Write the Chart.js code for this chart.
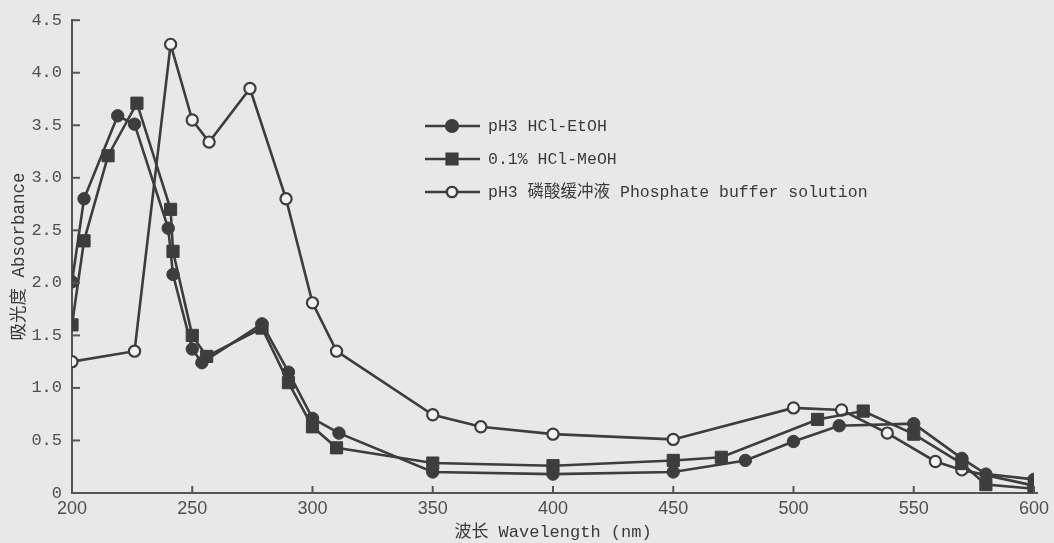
<!DOCTYPE html>
<html>
<head>
<meta charset="utf-8">
<script src="https://cdn.jsdelivr.net/npm/chart.js@4/dist/chart.umd.min.js"></script>
<style>
  html, body { margin: 0; padding: 0; background: #e8e8e8; }
  #wrap { width: 1054px; height: 543px; position: relative; }
</style>
</head>
<body>
<div id="wrap"><canvas id="c" width="1054" height="543"></canvas></div>
<script>
// ---- data ----
const etohWavelength = [200, 205, 219, 226, 240, 242, 250, 254, 279, 290, 300, 311, 350, 400, 450, 480, 500, 519, 550, 570, 580, 600];
const etohAbsorbance = [2.01, 2.80, 3.59, 3.51, 2.52, 2.08, 1.37, 1.24, 1.61, 1.15, 0.71, 0.57, 0.20, 0.18, 0.20, 0.31, 0.49, 0.64, 0.66, 0.33, 0.18, 0.13];

const meohWavelength = [200, 205, 215, 227, 241, 242, 250, 256, 279, 290, 300, 310, 350, 400, 450, 470, 510, 529, 550, 570, 580, 600];
const meohAbsorbance = [1.60, 2.40, 3.21, 3.71, 2.70, 2.30, 1.50, 1.30, 1.57, 1.05, 0.63, 0.43, 0.285, 0.26, 0.31, 0.34, 0.70, 0.78, 0.56, 0.28, 0.08, 0.04];

const phosWavelength = [200, 226, 241, 250, 257, 274, 289, 300, 310, 350, 370, 400, 450, 500, 520, 539, 559, 570, 600];
const phosAbsorbance = [1.25, 1.35, 4.27, 3.55, 3.34, 3.85, 2.80, 1.81, 1.35, 0.745, 0.63, 0.56, 0.51, 0.81, 0.79, 0.57, 0.30, 0.22, 0.07];

const seriesLabels = ['pH3 HCl-EtOH', '0.1% HCl-MeOH', 'pH3 磷酸缓冲液 Phosphate buffer solution'];
const xTitle = '波长 Wavelength (nm)';
const yTitle = '吸光度 Absorbance';
const xMin = 200, xMax = 600, xStep = 50;
const yMin = 0, yMax = 4.5, yStep = 0.5;

function pts(xs, ys) { return xs.map((x, i) => ({ x: x, y: ys[i] })); }

const INK = '#3d3d3d';
const PAPER = '#e8e8e8';
const MONO = '"Liberation Mono", "Noto Sans CJK SC", monospace';

const styles = [
  { pointStyle: 'circle', radius: 6.2, bg: INK, border: INK, bw: 1 },
  { pointStyle: 'rect', radius: 8.6, bg: INK, border: INK, bw: 1 },
  { pointStyle: 'circle', radius: 5.6, bg: '#f2f2f2', border: INK, bw: 2.2 }
];

const datasets = [
  pts(etohWavelength, etohAbsorbance),
  pts(meohWavelength, meohAbsorbance),
  pts(phosWavelength, phosAbsorbance)
].map((d, i) => ({
  label: seriesLabels[i],
  data: d,
  borderColor: INK,
  borderWidth: 2.6,
  backgroundColor: styles[i].bg,
  pointStyle: styles[i].pointStyle,
  pointRadius: styles[i].radius,
  pointBackgroundColor: styles[i].bg,
  pointBorderColor: styles[i].border,
  pointBorderWidth: styles[i].bw,
  tension: 0,
  fill: false
}));

const bgPlugin = {
  id: 'paper',
  beforeDraw(chart) {
    const ctx = chart.ctx;
    ctx.save();
    ctx.fillStyle = PAPER;
    ctx.fillRect(0, 0, chart.width, chart.height);
    ctx.restore();
  }
};

const inwardTicks = {
  id: 'inwardTicks',
  afterDraw(chart) {
    const ctx = chart.ctx;
    const xs = chart.scales.x, ys = chart.scales.y;
    ctx.save();
    ctx.strokeStyle = '#555';
    ctx.lineWidth = 2;
    ys.ticks.forEach(t => {
      const py = ys.getPixelForValue(t.value);
      ctx.beginPath();
      ctx.moveTo(xs.left, py);
      ctx.lineTo(xs.left + 8, py);
      ctx.stroke();
    });
    xs.ticks.forEach(t => {
      const px = xs.getPixelForValue(t.value);
      ctx.beginPath();
      ctx.moveTo(px, ys.bottom);
      ctx.lineTo(px, ys.bottom - 7);
      ctx.stroke();
    });
    // axis extends slightly past 600 like the print
    ctx.beginPath();
    ctx.moveTo(xs.right, ys.bottom);
    ctx.lineTo(xs.right + 4, ys.bottom);
    ctx.stroke();
    ctx.restore();
  }
};

const legendPlugin = {
  id: 'printLegend',
  afterDraw(chart) {
    const ctx = chart.ctx;
    const x0 = 425, x1 = 480, xm = 452, xt = 488;
    const rows = [126, 159, 192];
    ctx.save();
    chart.data.datasets.forEach((ds, i) => {
      const y = rows[i];
      ctx.strokeStyle = INK;
      ctx.lineWidth = 2.6;
      ctx.beginPath();
      ctx.moveTo(x0, y);
      ctx.lineTo(x1, y);
      ctx.stroke();
      const r = i === 2 ? 5 : (i === 1 ? 7.5 : 5.8);
      Chart.helpers.drawPoint(ctx, {
        pointStyle: ds.pointStyle,
        radius: r,
        rotation: 0,
        borderWidth: ds.pointBorderWidth
      }, xm, y);
      ctx.fillStyle = ds.pointBackgroundColor;
      ctx.strokeStyle = ds.pointBorderColor;
      ctx.lineWidth = ds.pointBorderWidth;
      ctx.beginPath();
      if (ds.pointStyle === 'rect') {
        const s = r * Math.SQRT1_2;
        ctx.rect(xm - s, y - s, 2 * s, 2 * s);
      } else {
        ctx.arc(xm, y, r, 0, Math.PI * 2);
      }
      ctx.fill();
      ctx.stroke();
      ctx.fillStyle = '#3a3a3a';
      ctx.font = '16.5px ' + MONO;
      ctx.textBaseline = 'middle';
      ctx.textAlign = 'left';
      ctx.fillText(ds.label, xt, y + 1);
    });
    ctx.restore();
  }
};

new Chart(document.getElementById('c'), {
  type: 'line',
  data: { datasets: datasets },
  plugins: [bgPlugin, inwardTicks, legendPlugin],
  options: {
    responsive: false,
    animation: false,
    devicePixelRatio: 1,
    layout: { padding: { top: 20, right: 17, left: 0, bottom: 0 } },
    plugins: { legend: { display: false }, tooltip: { enabled: false } },
    scales: {
      x: {
        type: 'linear',
        min: xMin, max: xMax,
        afterFit(s) { s.height = 50; },
        ticks: {
          stepSize: xStep,
          color: '#505050',
          font: { family: '"Liberation Sans", sans-serif', size: 18 },
          padding: 5,
          maxRotation: 0
        },
        grid: { drawOnChartArea: false, drawTicks: false },
        border: { color: '#555', width: 2 },
        title: {
          display: true,
          text: xTitle,
          color: '#3a3a3a',
          font: { family: MONO, size: 17 },
          padding: { top: 0, bottom: 0 }
        }
      },
      y: {
        min: yMin, max: yMax,
        afterFit(s) { s.width = 72; },
        ticks: {
          stepSize: yStep,
          color: '#505050',
          font: { family: MONO, size: 17 },
          padding: 10,
          callback: v => (v === 0 ? '0' : v.toFixed(1))
        },
        grid: { drawOnChartArea: false, drawTicks: false },
        border: { color: '#555', width: 2 },
        title: {
          display: true,
          text: yTitle,
          color: '#3a3a3a',
          font: { family: MONO, size: 17.5 },
          padding: { top: 9, bottom: 0 }
        }
      }
    }
  }
});
</script>
</body>
</html>
